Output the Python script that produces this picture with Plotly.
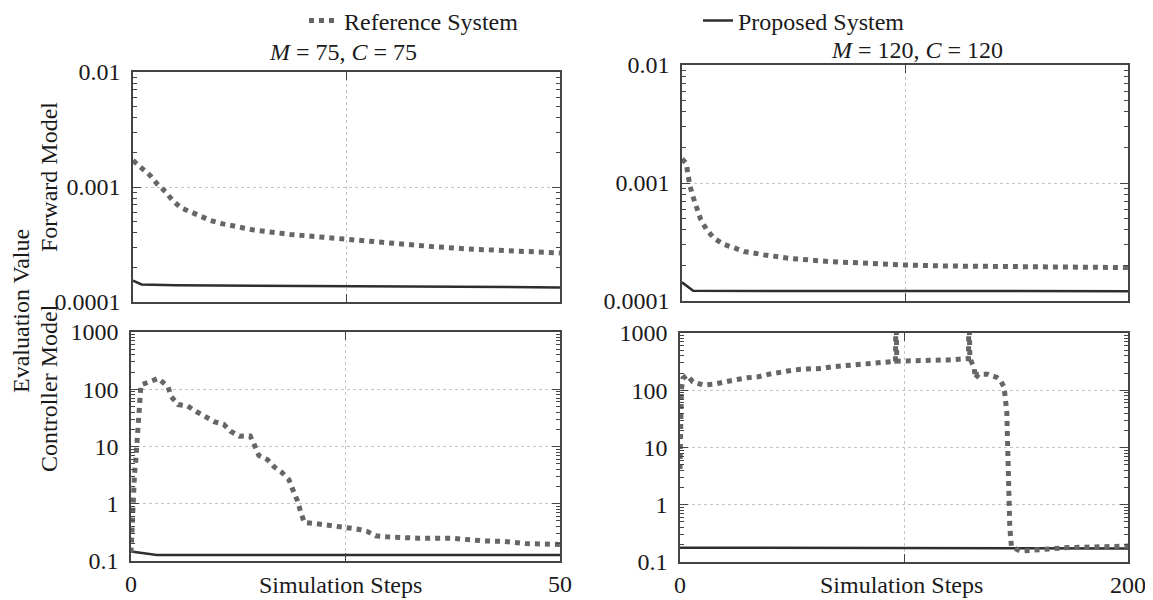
import plotly.graph_objects as go

# ---------------- data ----------------
# Top-left: Forward Model, M=75, C=75
fl_ref_x = [0, 1.2, 2, 2.9, 3.8, 4.6, 5.6, 6.7, 7.9, 9.1, 10.4, 14.2, 18.4, 22.6, 25.3, 30.9, 35.1, 39.3, 43.4, 50]
fl_ref_y = [0.0017, 0.00144, 0.00126, 0.00105, 0.00091, 0.00077, 0.00066, 0.00061, 0.00055, 0.00051, 0.00048,
            0.000422, 0.000387, 0.000362, 0.000353, 0.000319, 0.000303, 0.000289, 0.00028, 0.000267]
fl_pro_x = [0, 1, 5, 25, 50]
fl_pro_y = [0.000153, 0.000142, 0.00014, 0.000137, 0.000134]

# Top-right: Forward Model, M=120, C=120
fr_ref_x = [0, 1.9, 2.8, 3.6, 5.2, 6.8, 8.4, 10.9, 14.1, 18.2, 23, 27.9, 36.8, 48, 66, 85, 100, 118, 150, 200]
fr_ref_y = [0.0016, 0.00147, 0.00114, 0.00094, 0.00074, 0.00061, 0.00049, 0.000406, 0.000344, 0.000305, 0.000281,
            0.000263, 0.000246, 0.00023, 0.000216, 0.000206, 0.000202, 0.000198, 0.000195, 0.000192]
fr_pro_x = [0, 5, 200]
fr_pro_y = [0.000144, 0.000122, 0.000121]

# Bottom-left: Controller Model, M=75, C=75
cl_ref_x = [0, 0.05, 0.12, 0.25, 0.33, 0.41, 0.54, 0.62, 0.75, 0.83, 0.87, 0.95, 1.04, 1.16, 2.2, 3.2, 4.3, 4.7,
            5.5, 6.6, 7.7, 8.7, 9.75, 10.8, 11.6, 12.65, 13.9, 14.4, 14.9, 15.9, 16.7, 17.55, 18.4, 18.9, 19.4,
            19.75, 20.2, 21.5, 22.7, 24, 25, 26.3, 27.5, 28.5, 29.8, 31, 33.5, 37.3, 38.5, 41, 43.5, 44.7, 46, 50]
cl_ref_y = [0.14, 0.22, 0.33, 1.5, 2.1, 3.3, 5.3, 8, 12.8, 20.6, 31, 49, 79, 119, 136, 155, 111, 74,
            54, 51, 40, 33, 27, 24.5, 18.5, 15.1, 15.3, 10.5, 7, 5.9, 4.4, 3.56, 2.65, 1.7, 1.13,
            0.74, 0.47, 0.45, 0.43, 0.4, 0.375, 0.363, 0.33, 0.275, 0.264, 0.257, 0.25, 0.25, 0.24, 0.225,
            0.22, 0.21, 0.202, 0.195]
cl_pro_x = [0, 3, 50]
cl_pro_y = [0.146, 0.127, 0.127]

# Bottom-right: Controller Model, M=120, C=120
cr_ref_x = [0, 0.1, 0.2, 0.4, 0.6, 1.3, 3.2, 5.7, 10.6, 15.4, 20.3, 25.2, 30, 34.9, 39.8, 44.7, 48.8, 53.7,
            58.5, 63.4, 68.3, 73, 78, 83, 88.6, 93.5, 96.2, 96.4, 96.6, 96.8, 100, 105, 110, 114.6, 119.5,
            124.4, 128.8, 129.0, 129.2, 129.4, 131.4, 131.7, 133.3, 137.4, 141.5, 143, 144.7, 145.5, 145.9,
            146, 146.1, 146.2, 146.4, 146.5, 146.6, 146.7, 146.8, 147, 147.2, 147.5, 148, 152, 157, 161.8,
            167, 171.5, 176.4, 181.3, 187, 192, 200]
cr_ref_y = [4.2, 10, 26, 65, 100, 161, 184, 140, 123, 128, 137, 154, 165, 172, 191, 211, 219, 232,
            235, 241, 258, 269, 276, 288, 304, 316, 320, 3000, 3000, 322, 325, 325, 330, 333, 338,
            348, 360, 3000, 3000, 363, 241, 161, 191, 191, 167, 151, 112, 67, 41,
            28, 17, 11.5, 7, 4.4, 2.76, 1.84, 1.14, 0.71, 0.44, 0.295, 0.184, 0.155, 0.162, 0.167,
            0.172, 0.177, 0.18, 0.181, 0.184, 0.187, 0.19]
cr_pro_x = [0, 68, 70, 200]
cr_pro_y = [0.178, 0.177, 0.173, 0.172]

series_names = ["Reference System", "Proposed System"]
titles = ["<i>M</i> = 75, <i>C</i> = 75", "<i>M</i> = 120, <i>C</i> = 120"]
fwd_ticks = [0.0001, 0.001, 0.01]
fwd_ticktext = ["0.0001", "0.001", "0.01"]
ctl_ticks = [0.1, 1, 10, 100, 1000]
ctl_ticktext = ["0.1", "1", "10", "100", "1000"]
x_left_ticks = [0, 25, 50]
x_left_text = ["0", "", "50"]
x_right_ticks = [0, 100, 200]
x_right_text = ["0", "", "200"]

# ---------------- style ----------------
W, H = 1153, 600
OFF = 8  # page body margin: figure is drawn 8px right/down of the window origin
FONT = "Liberation Serif"
TXT = "#1a1a1a"
REF_COLOR = "#666666"
PRO_COLOR = "#2e2e2e"


def px_x(p):
    return (p - OFF) / W


def px_y(p):
    return 1 - (p - OFF) / H


def minor_vals(lo_exp, hi_exp):
    v = []
    for e in range(lo_exp, hi_exp):
        for m in range(2, 10):
            v.append(m * 10 ** e)
    return v


fig = go.Figure()

panels = [
    ("x", "y", fl_ref_x, fl_ref_y, fl_pro_x, fl_pro_y, True),
    ("x2", "y2", fr_ref_x, fr_ref_y, fr_pro_x, fr_pro_y, False),
    ("x3", "y3", cl_ref_x, cl_ref_y, cl_pro_x, cl_pro_y, False),
    ("x4", "y4", cr_ref_x, cr_ref_y, cr_pro_x, cr_pro_y, False),
]

for xa, ya, rx, ry, px_, py_, show in panels:
    fig.add_trace(go.Scatter(x=px_, y=py_, xaxis=xa, yaxis=ya, mode="lines",
                             line=dict(color=PRO_COLOR, width=2.5),
                             name=series_names[1], showlegend=show, legend="legend2"))
    fig.add_trace(go.Scatter(x=rx, y=ry, xaxis=xa, yaxis=ya, mode="lines",
                             line=dict(color=REF_COLOR, width=5, dash="dot"),
                             name=series_names[0], showlegend=show, legend="legend"))

axis_common = dict(
    showline=True, linecolor="#444444", linewidth=1.5, mirror="ticks",
    ticks="inside", ticklen=8, tickwidth=1, tickcolor="#444444",
    showgrid=True, gridcolor="#c4c4c4", griddash="dot", gridwidth=1,
    zeroline=False,
    tickfont=dict(family=FONT, size=24, color=TXT),
)

# domains (window pixels)
dom = {
    "tl": ([133, 560], [72, 302]),
    "tr": ([682, 1128], [65, 301]),
    "bl": ([131, 560], [332, 561]),
    "br": ([680, 1128], [333, 562]),
}


def xd(k):
    a, b = dom[k][0]
    return [px_x(a), px_x(b)]


def yd(k):
    a, b = dom[k][1]
    return [px_y(b), px_y(a)]


fwd_minor = dict(ticks="inside", ticklen=4, tickcolor="#444444", tickvals=minor_vals(-4, -2), showgrid=False)
ctl_minor = dict(ticks="inside", ticklen=4, tickcolor="#444444", tickvals=minor_vals(-1, 3), showgrid=False)

fig.update_layout(
    xaxis=dict(axis_common, domain=xd("tl"), anchor="y", range=[0, 50], tickvals=x_left_ticks,
               showticklabels=False),
    yaxis=dict(axis_common, domain=yd("tl"), anchor="x", type="log", range=[-4, -2],
               tickvals=fwd_ticks, ticktext=fwd_ticktext, minor=fwd_minor, ticklabelstandoff=6),
    xaxis2=dict(axis_common, domain=xd("tr"), anchor="y2", range=[0, 200], tickvals=x_right_ticks,
                showticklabels=False),
    yaxis2=dict(axis_common, domain=yd("tr"), anchor="x2", type="log", range=[-4, -2],
                tickvals=fwd_ticks, ticktext=fwd_ticktext, minor=fwd_minor, ticklabelstandoff=6),
    xaxis3=dict(axis_common, domain=xd("bl"), anchor="y3", range=[0, 50], tickvals=x_left_ticks,
                ticktext=x_left_text),
    yaxis3=dict(axis_common, domain=yd("bl"), anchor="x3", type="log", range=[-1, 3],
                tickvals=ctl_ticks, ticktext=ctl_ticktext, minor=ctl_minor, ticklabelstandoff=6),
    xaxis4=dict(axis_common, domain=xd("br"), anchor="y4", range=[0, 200], tickvals=x_right_ticks,
                ticktext=x_right_text),
    yaxis4=dict(axis_common, domain=yd("br"), anchor="x4", type="log", range=[-1, 3],
                tickvals=ctl_ticks, ticktext=ctl_ticktext, minor=ctl_minor, ticklabelstandoff=6),
    width=W, height=H,
    margin=dict(l=0, r=0, t=0, b=0, autoexpand=False),
    paper_bgcolor="white", plot_bgcolor="white",
    font=dict(family=FONT, size=24, color=TXT),
    legend=dict(x=px_x(304), y=px_y(21), xanchor="left", yanchor="middle", orientation="h",
                font=dict(family=FONT, size=24, color=TXT), bgcolor="rgba(0,0,0,0)"),
    legend2=dict(x=px_x(698), y=px_y(21), xanchor="left", yanchor="middle", orientation="h",
                 font=dict(family=FONT, size=24, color=TXT), bgcolor="rgba(0,0,0,0)"),
)

annots = [
    dict(text=titles[0], x=px_x(343), y=px_y(52)),
    dict(text=titles[1], x=px_x(917), y=px_y(50)),
    dict(text="Simulation Steps", x=px_x(340), y=px_y(585)),
    dict(text="Simulation Steps", x=px_x(902), y=px_y(585)),
    dict(text="Evaluation Value", x=px_x(21), y=px_y(311), textangle=-90),
    dict(text="Forward Model", x=px_x(49), y=px_y(177), textangle=-90),
    dict(text="Controller Model", x=px_x(49), y=px_y(388), textangle=-90),
]
for a in annots:
    fig.add_annotation(xref="paper", yref="paper", showarrow=False, xanchor="center", yanchor="middle",
                       font=dict(family=FONT, size=24, color=TXT), **a)

fig.write_html("out.html")
